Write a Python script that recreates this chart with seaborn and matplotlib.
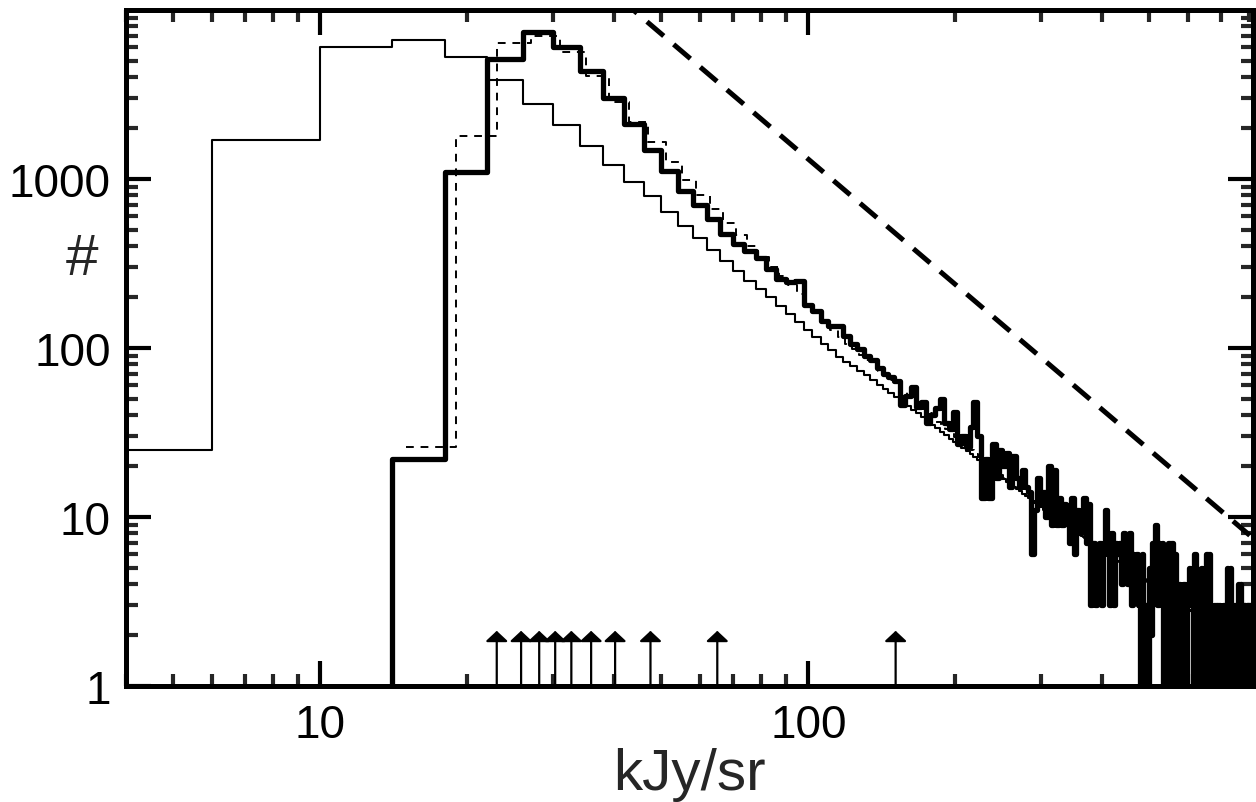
import numpy as np
import matplotlib
matplotlib.use("Agg")
import matplotlib.pyplot as plt
from matplotlib.ticker import LogLocator, NullFormatter
import seaborn as sns

# all three histograms use 4 kJy/sr wide bins
bin_width = 4

# model counts, thin solid line (first bin starts at 2 kJy/sr)
thin_start = 2
thin_counts = [
    25, 1700, 6040, 6640, 5300, 3850, 2780, 2090, 1570, 1210,
    960, 790, 640, 530, 448, 380, 327, 286, 250, 224,
    200, 178, 159, 143, 128, 116, 106, 97, 89, 83,
    78, 73, 69, 64.5, 60.5, 57, 54, 51, 48, 45.5,
    43, 41, 38.8, 36.9, 35.1, 33.5, 31.9, 30.5, 29.1, 27.9,
    26.7, 25.6, 24.5, 23.6, 22.6, 21.7, 20.9, 20.1, 19.4, 18.7,
    18.0, 17.4, 16.8, 16.2, 15.7, 15.1, 14.7, 14.2, 13.7, 13.3,
    12.9, 12.5, 12.1, 11.8, 11.4, 11.1, 10.8, 10.5, 10.3, 10.0,
    9.8, 9.5, 9.3, 9.1, 8.9, 8.7, 8.5, 8.3, 8.1, 7.9,
    7.7, 7.6, 7.4, 7.3, 7.1, 7.0, 6.8, 6.7, 6.5, 6.4,
    6.3, 6.2, 6.0, 5.9, 5.8, 5.7, 5.6, 5.5, 5.4, 5.3,
    5.2, 5.1, 5.0, 4.9, 4.8, 4.8, 4.7, 4.6, 4.5, 4.5,
    4.38, 4.31, 4.24, 4.17, 4.10, 4.04, 3.98, 3.91, 3.85, 3.79,
    3.74, 3.68, 3.63, 3.57, 3.52, 3.47, 3.42, 3.37, 3.32, 3.27,
    3.23, 3.18, 3.14, 3.09, 3.05, 3.01, 2.97, 2.93, 2.89, 2.85,
    2.81, 2.78, 2.74, 2.70, 2.67, 2.64, 2.60, 2.57, 2.54, 2.50,
    2.47, 2.44, 2.41, 2.38, 2.36, 2.33, 2.30, 2.27, 2.25, 2.22,
    2.19, 2.17, 2.14, 2.12, 2.09, 2.07, 2.05, 2.02, 2.00, 1.98,
    1.96, 1.94, 1.91, 1.89, 1.87, 1.85, 1.83, 1.81, 1.80, 1.78,
    1.76, 1.74, 1.72, 1.70, 1.69, 1.67, 1.65, 1.64, 1.62, 1.60,
    1.59, 1.57, 1.56, 1.54, 1.53,
]

# observed counts, thick solid line (first bin starts at 14 kJy/sr,
# rising from the bottom of the plot)
thick_start = 14
thick_base = 1
thick_counts = [
    22, 1100, 5130, 7400, 6050, 4350, 3020, 2115, 1480,
    1110, 850, 700, 580, 470, 415, 375, 340, 295, 255,
    245, 250, 180, 165, 145, 135, 135, 118, 105, 98,
    90, 85, 76, 70, 67, 64, 46, 52, 59, 45,
    48, 36, 40, 44, 50, 36, 33, 42, 27, 30,
    26, 34, 48, 30, 13, 22, 13, 27, 17, 25,
    20, 24, 15, 23, 17, 15, 19, 15, 14, 6,
    11, 17, 12, 14, 10, 20, 9, 19, 9, 13,
    9, 12, 10, 7, 13, 6, 11, 8, 9, 13,
    7, 12, 3, 7, 3, 5, 7, 3, 6, 11,
    8, 3, 8, 3, 7, 6, 7, 4, 8, 5,
    4, 8, 3, 6, 4, 6, 3, 1, 6, 1,
    3, 1, 5, 2, 7, 4, 9, 3, 7, 5,
    7, 1, 3, 1, 7, 4, 7, 1, 6, 1,
    3, 4, 3, 1, 4, 2, 1, 3, 5, 3,
    5, 1, 6, 3, 1, 2, 1, 5, 2, 5,
    1, 6, 3, 6, 2, 1, 2, 3, 1, 3,
    1, 3, 1, 2, 3, 1, 3, 1, 5, 2,
    5, 1, 3, 1, 3, 2, 1, 4, 1, 4,
    1, 3, 1, 3, 2, 1, 3, 1, 3, 1,
    3, 1, 2,
]

# second model, thin dashed line (first bin starts at 15 kJy/sr)
dash_start = 15
dash_counts = [
    26, 1800, 6380, 7020, 5650, 4050, 2850, 2170, 1660, 1260,
    980, 800, 660, 550, 465, 400, 345, 300, 265, 235,
    208, 180, 160, 143, 128, 115.5, 106, 98, 90.7, 84.8,
    78.7, 73.3, 68.6, 64.4, 60.3, 56.2, 52.5, 49.3, 46.5, 43.7,
    41.2, 38.9, 36.7, 34.8, 33.0, 31.4, 29.8, 28.4, 27.1, 25.9,
    24.8, 23.6, 22.6, 21.6, 20.7, 20.0, 19.1, 18.3, 17.7, 17.0,
    16.4, 15.9, 15.3, 14.8, 14.2, 13.7, 13.3, 12.9, 12.5, 12.1,
    11.8, 11.4, 11.03, 10.75, 10.47, 10.21, 9.96, 9.71, 9.48, 9.25,
    9.03, 8.82, 8.62, 8.42, 8.23, 8.05, 7.87, 7.70, 7.54, 7.37,
    7.22, 7.07, 6.92, 6.78, 6.64, 6.51, 6.38, 6.26, 6.13, 6.02,
    5.90, 5.79, 5.68, 5.57, 5.47, 5.37, 5.28, 5.18, 5.09, 5.00,
    4.91, 4.83, 4.75, 4.66, 4.59, 4.51, 4.43, 4.36, 4.29, 4.22,
    4.15, 4.09, 4.02, 3.96, 3.90, 3.84, 3.78, 3.72, 3.67, 3.61,
    3.56, 3.51, 3.45, 3.40, 3.36, 3.31, 3.26, 3.21, 3.17, 3.12,
    3.08, 3.04, 3.00, 2.96, 2.92, 2.88, 2.84, 2.80, 2.77, 2.73,
    2.70, 2.66, 2.63, 2.59, 2.56, 2.53, 2.50, 2.47, 2.44, 2.41,
    2.38, 2.35, 2.32, 2.29, 2.27, 2.24, 2.21, 2.19, 2.16, 2.14,
    2.11, 2.09, 2.06, 2.04, 2.02, 2.00, 1.97, 1.95, 1.93, 1.91,
    1.89, 1.87, 1.85, 1.83, 1.81, 1.79, 1.77, 1.75, 1.73, 1.72,
    1.70, 1.68, 1.66, 1.65, 1.63, 1.62, 1.60, 1.58, 1.57, 1.55,
    1.54,
]

# Euclidean slope reference line (thick dashed)
ref_flux = [40, 815]
ref_counts = [12500, 7.5]

# fluxes of the marked sources (arrows)
arrow_flux = [23.0, 25.8, 28.1, 30.3, 32.7, 35.9, 40.2, 47.5, 65.1, 151]
arrow_top = 2.12


def steps(start, counts, base=None):
    # turn bin counts into the corner points of a step outline
    edges = start + bin_width * np.arange(len(counts) + 1)
    xs = np.repeat(edges, 2)[1:-1]
    ys = np.repeat(np.asarray(counts, dtype=float), 2)
    if base is not None:
        xs = np.concatenate([[edges[0]], xs])
        ys = np.concatenate([[base], ys])
    return xs, ys


sns.set_theme(style="ticks")
plt.rcParams['font.family'] = ['Liberation Sans', 'DejaVu Sans']

fig = plt.figure(figsize=(12.56, 8.03), dpi=100)
ax = fig.add_axes([0.1003, 0.1445, 0.8973, 0.8418])

x, y = steps(thin_start, thin_counts)
sns.lineplot(x=x, y=y, ax=ax, sort=False, estimator=None, color='black', lw=1.5)

x, y = steps(dash_start, dash_counts)
sns.lineplot(x=x, y=y, ax=ax, sort=False, estimator=None, color='black',
             lw=1.4, linestyle=(0, (4, 3.5)))

x, y = steps(thick_start, thick_counts, base=thick_base)
sns.lineplot(x=x, y=y, ax=ax, sort=False, estimator=None, color='black', lw=3.8)

sns.lineplot(x=ref_flux, y=ref_counts, ax=ax, sort=False, estimator=None,
             color='black', lw=3.6, linestyle=(0, (4.4, 2.6)))

for f in arrow_flux:
    ax.annotate('', xy=(f, arrow_top), xytext=(f, 1),
                arrowprops=dict(arrowstyle='-|>,head_length=0.42,head_width=0.45',
                                mutation_scale=15, lw=1.6, color='black',
                                shrinkA=0, shrinkB=0))

ax.set_xscale('log')
ax.set_yscale('log')
ax.set_xlim(4, 815)
ax.set_ylim(1, 1e4)

ax.set_xticks([10, 100], ['10', '100'])
ax.set_yticks([1, 10, 100, 1000], ['1', '10', '100', '1000'])
ax.xaxis.set_minor_locator(LogLocator(base=10, subs=np.arange(2, 10), numticks=20))
ax.yaxis.set_minor_locator(LogLocator(base=10, subs=np.arange(2, 10), numticks=20))
ax.xaxis.set_minor_formatter(NullFormatter())
ax.yaxis.set_minor_formatter(NullFormatter())

ax.tick_params(which='major', direction='in', length=18, width=3,
               top=True, right=True, labelsize=33, colors='black')
ax.tick_params(which='minor', direction='in', length=8.5, width=3,
               top=True, right=True)
ax.tick_params(axis='x', which='major', pad=12)
ax.tick_params(axis='y', which='major', pad=11)

for s in ax.spines.values():
    s.set_linewidth(3.6)
    s.set_color('black')

ax.set_xlabel('kJy/sr', fontsize=42, labelpad=0)
ax.set_ylabel('#', fontsize=42, rotation=0, va='center', ha='center')
ax.yaxis.set_label_coords(-0.039, 0.632)

fig.savefig('out.png', dpi=100)
